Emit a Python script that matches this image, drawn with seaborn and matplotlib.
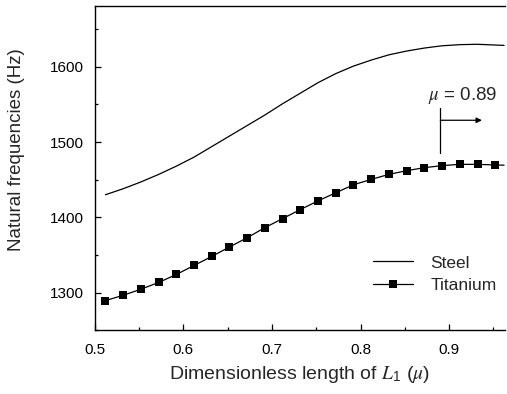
import matplotlib
matplotlib.use("Agg")
import matplotlib.pyplot as plt
import seaborn as sns
import pandas as pd
from matplotlib.ticker import MultipleLocator

# ---- data ----
mu = [0.512, 0.532, 0.552, 0.572, 0.592, 0.612, 0.632, 0.652, 0.672, 0.692,
      0.712, 0.732, 0.752, 0.772, 0.792, 0.812, 0.832, 0.852, 0.872, 0.892,
      0.912, 0.932, 0.952, 0.962]
steel = [1430, 1438, 1447, 1457, 1468, 1480, 1494, 1508, 1522, 1536,
         1551, 1565, 1579, 1591, 1601, 1609, 1616, 1621, 1625, 1628,
         1629.5, 1630, 1629, 1628.5]
titanium = [1289.3, 1296.4, 1304.4, 1313.4, 1324.0, 1336.0, 1348.0, 1360.5,
            1372.9, 1386.3, 1398.3, 1410.3, 1421.9, 1432.6, 1443.3, 1450.4,
            1457.1, 1462.0, 1466.0, 1468.7, 1470.4, 1470.4, 1469.6, 1469.3]
n_markers = 23
mu_mark = 0.89
xticks = [0.5, 0.6, 0.7, 0.8, 0.9]
yticks = [1300, 1400, 1500, 1600]

sns.set_theme(style="ticks")
plt.rcParams["font.family"] = ["Liberation Sans", "DejaVu Sans"]
plt.rcParams["mathtext.fontset"] = "stix"

df = pd.DataFrame({"mu": mu, "Steel": steel, "Titanium": titanium})

fig = plt.figure(figsize=(5.07, 3.94), dpi=100)
ax = fig.add_axes([0.187, 0.162, 0.809, 0.823])

sns.lineplot(data=df, x="mu", y="Steel", ax=ax, color="black", lw=0.9,
             label="Steel")
sns.lineplot(data=df, x="mu", y="Titanium", ax=ax, color="black", lw=0.9,
             marker="s", markersize=5.5, markeredgewidth=0,
             markevery=list(range(n_markers)), label="Titanium")

ax.set_xlim(0.5, 0.963)
ax.set_ylim(1250, 1681)
ax.set_xticks(xticks)
ax.set_yticks(yticks)
ax.set_xticklabels([f"{t:.1f}" for t in xticks])
ax.xaxis.set_minor_locator(MultipleLocator(0.05))
ax.yaxis.set_minor_locator(MultipleLocator(50))
ax.tick_params(which="both", direction="in", labelsize=11, color="black",
               labelcolor="black", width=0.9)
ax.tick_params(which="major", length=4)
ax.tick_params(which="minor", length=2.5)
ax.tick_params(axis="x", pad=9)
ax.tick_params(axis="y", pad=8)

for s in ["left", "bottom", "top"]:
    ax.spines[s].set_color("black")
    ax.spines[s].set_linewidth(1.0)
ax.spines["right"].set_visible(False)

ax.set_xlabel(r"Dimensionless length of $L_{\mathregular{1}}$ ($\mu$)",
              fontsize=14)
ax.set_ylabel("Natural frequencies (Hz)", fontsize=13.5)
ax.xaxis.set_label_coords(0.5, -0.138)
ax.yaxis.set_label_coords(-0.19, 0.556)
ax.xaxis.label.set_va("center")
ax.yaxis.label.set_va("center")

# annotation: mu = 0.89 marker line with arrow
ax.plot([mu_mark, mu_mark], [1486, 1545], color="black", lw=0.9)
ax.annotate("", xy=(0.937, 1529), xytext=(mu_mark, 1529),
            arrowprops=dict(arrowstyle="-|>", color="black", lw=0.9,
                            mutation_scale=8, shrinkA=0, shrinkB=0))
ax.text(0.915, 1562, r"$\mu$ = 0.89", fontsize=13.5, ha="center", va="center")

ax.legend(loc="lower left", bbox_to_anchor=(0.64, 0.065), frameon=False,
          fontsize=12.5, handlelength=2.3, handletextpad=1.0, labelspacing=0.45)

fig.savefig("out.png", dpi=100)
